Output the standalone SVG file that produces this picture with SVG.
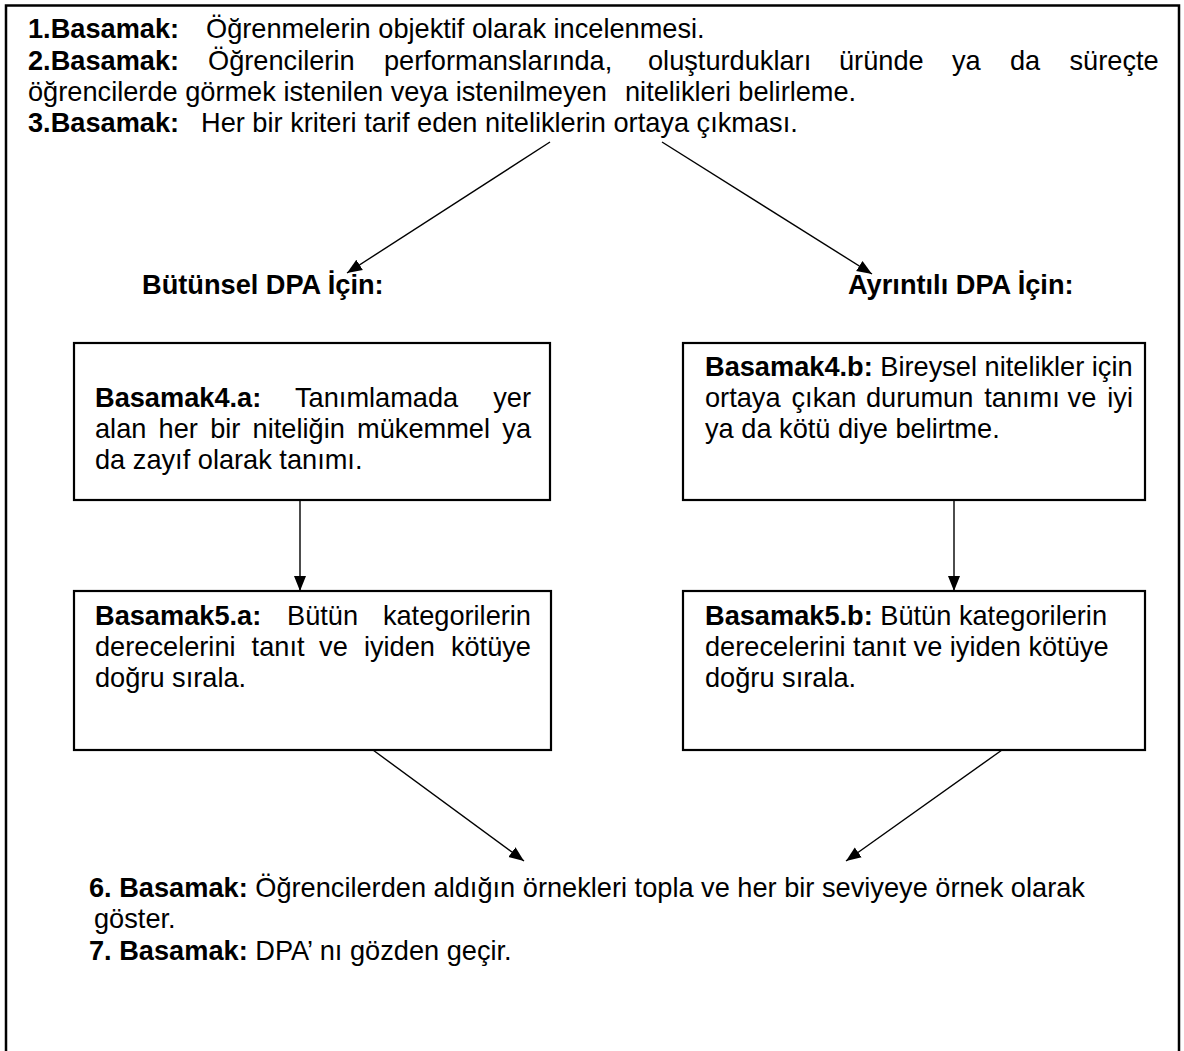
<svg xmlns="http://www.w3.org/2000/svg" width="1184" height="1051" viewBox="0 0 1184 1051">
<defs>
<style>
text{font-family:"Liberation Sans",Arial,sans-serif;font-size:27.2px;fill:#000}
.b{font-weight:bold}
.box{fill:#fff;stroke:#000;stroke-width:2.2}
.con{stroke:#000;stroke-width:1.4;fill:none}
</style>
<marker id="ah" markerUnits="userSpaceOnUse" markerWidth="16" markerHeight="14" refX="15" refY="7" orient="auto">
<path d="M0,1 L15,7 L0,13 z" fill="#000"/>
</marker>
</defs>
<rect x="0" y="0" width="1184" height="1051" fill="#fff"/>
<rect x="6" y="5.5" width="1173" height="1100" fill="none" stroke="#000" stroke-width="2.5"/>

<g id="intro">
<text y="38"><tspan class="b" x="28">1.Basamak:</tspan><tspan x="206">Öğrenmelerin objektif olarak incelenmesi.</tspan></text>
<text y="70"><tspan class="b" x="28">2.Basamak:</tspan><tspan x="208">Öğrencilerin</tspan><tspan x="384">performanslarında,</tspan><tspan x="648">oluşturdukları</tspan><tspan x="839">üründe</tspan><tspan x="952">ya</tspan><tspan x="1010">da</tspan><tspan x="1069.5">süreçte</tspan></text>
<text y="101"><tspan x="28">öğrencilerde görmek istenilen veya istenilmeyen</tspan><tspan x="625">nitelikleri belirleme.</tspan></text>
<text y="132"><tspan class="b" x="28">3.Basamak:</tspan><tspan x="201">Her bir kriteri tarif eden niteliklerin ortaya çıkması.</tspan></text>
</g>

<g id="head-a"><text class="b" x="142" y="294">Bütünsel DPA İçin:</text></g>
<g id="head-b"><text class="b" x="848" y="294">Ayrıntılı DPA İçin:</text></g>

<g id="step4a">
<rect class="box" x="74" y="343" width="476" height="157"/>
<text y="407"><tspan class="b" x="95">Basamak4.a:</tspan><tspan x="295">Tanımlamada</tspan></text>
<text y="407" x="531" text-anchor="end">yer</text>
<text y="438"><tspan x="95">alan</tspan><tspan x="158.6">her</tspan><tspan x="210.2">bir</tspan><tspan x="252.6">niteliğin</tspan><tspan x="357.1">mükemmel</tspan></text>
<text y="438" x="531" text-anchor="end">ya</text>
<text x="95" y="469">da zayıf olarak tanımı.</text>
</g>

<g id="step4b">
<rect class="box" x="683" y="343" width="462" height="157"/>
<text x="705" y="376"><tspan class="b">Basamak4.b:</tspan> Bireysel nitelikler için</text>
<text y="407"><tspan x="705">ortaya</tspan><tspan x="791.5">çıkan</tspan><tspan x="866">durumun</tspan><tspan x="984.2">tanımı</tspan><tspan x="1067.6">ve</tspan></text>
<text y="407" x="1133" text-anchor="end">iyi</text>
<text x="705" y="438">ya da kötü diye belirtme.</text>
</g>

<g id="step5a">
<rect class="box" x="74" y="591" width="477" height="159"/>
<text y="625"><tspan class="b" x="95">Basamak5.a:</tspan><tspan x="287">Bütün</tspan></text>
<text y="625" x="531" text-anchor="end">kategorilerin</text>
<text y="656"><tspan x="95">derecelerini</tspan><tspan x="251.6">tanıt</tspan><tspan x="319.1">ve</tspan><tspan x="363.9">iyiden</tspan></text>
<text y="656" x="531" text-anchor="end">kötüye</text>
<text x="95" y="687">doğru sırala.</text>
</g>

<g id="step5b">
<rect class="box" x="683" y="591" width="462" height="159"/>
<text x="705" y="625"><tspan class="b">Basamak5.b:</tspan> Bütün kategorilerin</text>
<text x="705" y="656">derecelerini tanıt ve iyiden kötüye</text>
<text x="705" y="687">doğru sırala.</text>
</g>

<g id="final">
<text x="89" y="897"><tspan class="b">6. Basamak:</tspan> Öğrencilerden aldığın örnekleri topla ve her bir seviyeye örnek olarak</text>
<text x="94" y="928">göster.</text>
<text x="89" y="960"><tspan class="b">7. Basamak:</tspan> DPA’ nı gözden geçir.</text>
</g>

<g id="connectors">
<line class="con" x1="550" y1="142" x2="347" y2="273" marker-end="url(#ah)"/>
<line class="con" x1="662" y1="142" x2="872" y2="274" marker-end="url(#ah)"/>
<line class="con" x1="300" y1="500" x2="300" y2="591" marker-end="url(#ah)"/>
<line class="con" x1="954" y1="500" x2="954" y2="591" marker-end="url(#ah)"/>
<line class="con" x1="373" y1="750" x2="524" y2="861" marker-end="url(#ah)"/>
<line class="con" x1="1002" y1="750" x2="846" y2="861" marker-end="url(#ah)"/>
</g>
</svg>
